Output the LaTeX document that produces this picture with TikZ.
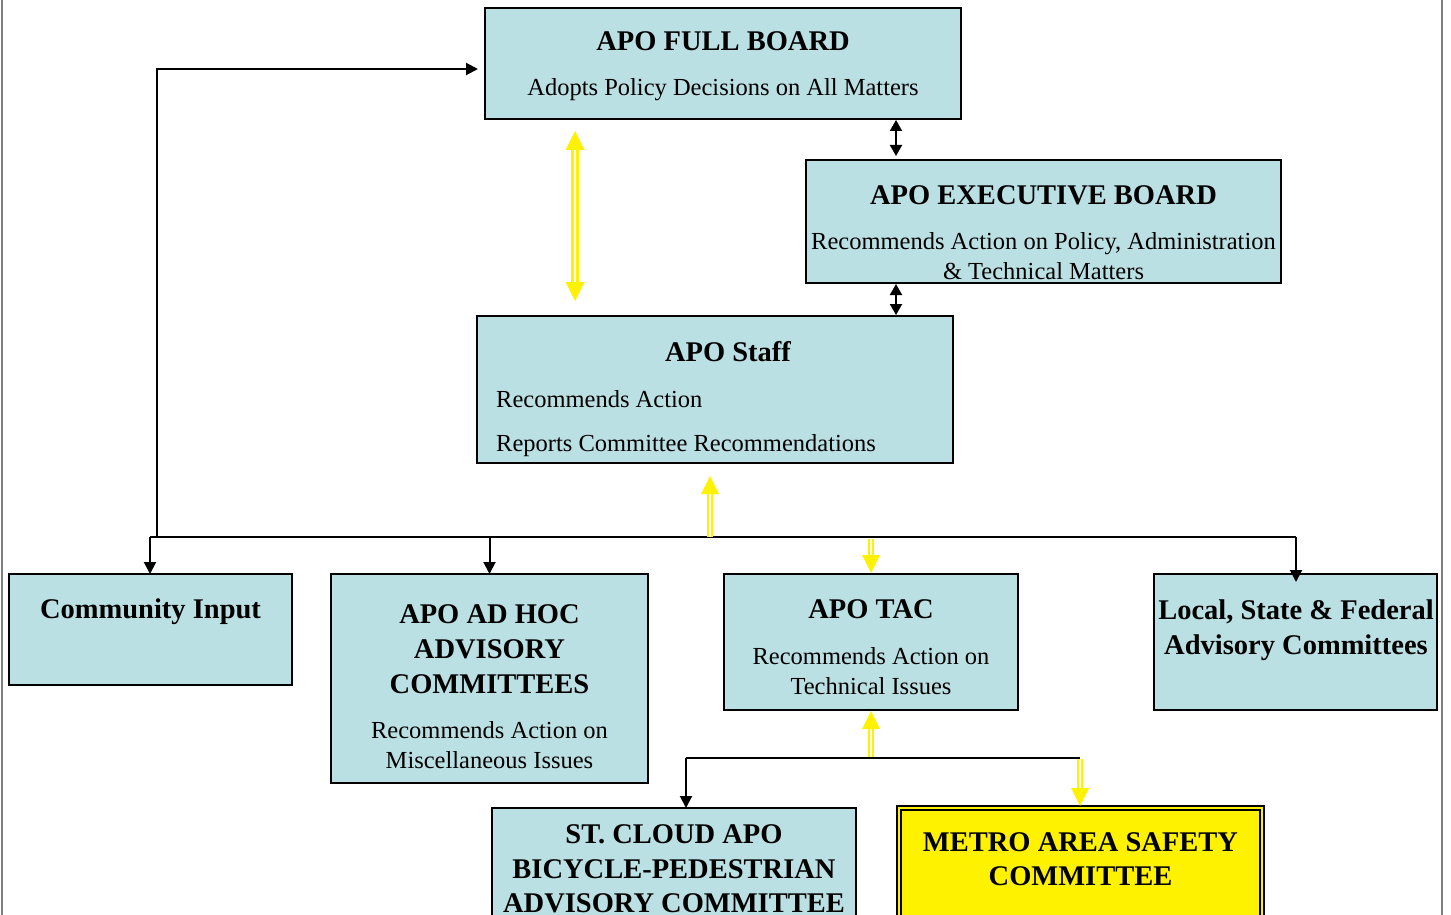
\documentclass[tikz,border=0pt]{standalone}
\usepackage{fontspec}
\setmainfont{Liberation Serif}
\usetikzlibrary{arrows.meta,calc}
\definecolor{boxblue}{RGB}{187,224,227}
\definecolor{edgegray}{RGB}{128,128,128}
\newcommand{\ttl}{\fontsize{28.5}{34}\selectfont\bfseries}
\newcommand{\bdy}{\fontsize{24.5}{30}\selectfont}
\begin{document}
\begin{tikzpicture}[x=1pt,y=-1pt,
  box/.style={draw=black, line width=2pt, fill=boxblue, anchor=north west, inner sep=0pt, outer sep=0pt},
  txt/.style={anchor=base, inner sep=0pt},
  blk/.style={draw=black, line width=2pt},
  btip/.style={-{Triangle[width=12pt,length=12pt]}},
  bboth/.style={{Triangle[width=12pt,length=11pt]}-{Triangle[width=12pt,length=11pt]}},
  yshaftB/.style={draw=yellow, line width=3pt, double=white, double distance=1.5pt},
  yshaft/.style={draw=yellow, line width=1.7pt, double=white, double distance=2.3pt},
  yhead/.style={fill=yellow}
]
\useasboundingbox (0,0) rectangle (1451,915);
\clip (0,0) rectangle (1451,915);
\fill[white] (0,0) rectangle (1451,915);
\draw[edgegray, line width=2pt] (2,0) -- (2,915);
\draw[edgegray, line width=2pt] (1442,0) -- (1442,915);

% boxes
\node[box, minimum width=476pt, minimum height=111pt] (fb) at (485,8) {};
\node[box, minimum width=475pt, minimum height=123pt] (ex) at (806,160) {};
\node[box, minimum width=476pt, minimum height=147pt] (st) at (477,316) {};
\node[box, minimum width=283pt, minimum height=111pt] (ci) at (9,574) {};
\node[box, minimum width=317pt, minimum height=209pt] (ah) at (331,574) {};
\node[box, minimum width=294pt, minimum height=136pt] (tac) at (724,574) {};
\node[box, minimum width=283pt, minimum height=136pt] (lsf) at (1154,574) {};
\node[box, minimum width=364pt, minimum height=140pt] (stc) at (492,808) {};
\node[draw=black, line width=1.6pt, double=yellow, double distance=2.4pt, fill=yellow,
      anchor=north west, inner sep=0pt, outer sep=0pt, minimum width=363.4pt, minimum height=140pt] (mas) at (898.8,807.8) {};

% texts
\node[txt] (fbT) at (723,51) {\ttl APO FULL BOARD};
\node[txt] (fbB) at (723,96) {\bdy Adopts Policy Decisions on All Matters};
\node[txt] (exT) at (1043.5,204) {\ttl APO EXECUTIVE BOARD};
\node[txt] (exB1) at (1043.5,249) {\bdy Recommends Action on Policy, Administration};
\node[txt] (exB2) at (1043.5,279) {\bdy \& Technical Matters};
\node[txt] (stT) at (728,361) {\ttl APO Staff};
\node[txt, anchor=base west] (stB1) at (496,407) {\bdy Recommends Action};
\node[txt, anchor=base west] (stB2) at (496,451) {\bdy Reports Committee Recommendations};
\node[txt] (ciT) at (150.5,618) {\ttl Community Input};
\node[txt] (ahT1) at (489.5,623) {\ttl APO AD HOC};
\node[txt] (ahT2) at (489.5,658) {\ttl ADVISORY};
\node[txt] (ahT3) at (489.5,693) {\ttl COMMITTEES};
\node[txt] (ahB1) at (489.5,738) {\bdy Recommends Action on};
\node[txt] (ahB2) at (489.5,768) {\bdy Miscellaneous Issues};
\node[txt] (tacT) at (871,618) {\ttl APO TAC};
\node[txt] (tacB1) at (871,664) {\bdy Recommends Action on};
\node[txt] (tacB2) at (871,694) {\bdy Technical Issues};
\node[txt] (lsfT1) at (1296,619) {\ttl Local, State \& Federal};
\node[txt] (lsfT2) at (1296,654) {\ttl Advisory Committees};
\node[txt] (stcT1) at (674,843) {\ttl ST. CLOUD APO};
\node[txt] (stcT2) at (674,878) {\ttl BICYCLE-PEDESTRIAN};
\node[txt] (stcT3) at (674,912) {\ttl ADVISORY COMMITTEE};
\node[txt] (masT1) at (1080.5,851) {\ttl METRO AREA SAFETY};
\node[txt] (masT2) at (1080.5,885) {\ttl COMMITTEE};

% black connectors
\coordinate (busL) at (150,537);
\coordinate (busR) at (1296,537);
\coordinate (fbUp) at (157,537);
\coordinate (fbIn) at (478,69);
\draw[blk] (busL) -- (busR);
\draw[blk, btip] (fbUp) |- (fbIn);
\draw[blk, btip] (busL) -- (busL |- ci.north);
\draw[blk, btip] (ah.north |- busL) -- (ah.north);
\coordinate (lsfIn) at (1296,582);
\draw[blk, btip] (busR) -- (lsfIn);
\coordinate (d1a) at (896,120);
\coordinate (d1b) at (896,156);
\draw[blk, bboth] (d1a) -- (d1b);
\coordinate (d2a) at (896,284);
\coordinate (d2b) at (896,315);
\draw[blk, bboth] (d2a) -- (d2b);
\coordinate (lowL) at (686,758);
\coordinate (lowR) at (1080,758);
\draw[blk] (lowL) -- (lowR);
\draw[blk, btip] (lowL) -- (lowL |- stc.north);

% yellow connectors
\coordinate (yA) at (575,131);
\coordinate (yB) at (575,301);
\draw[yshaftB] ($(yA)+(0,16)$) -- ($(yB)+(0,-16)$);
\fill[yhead] (yA) -- ++(-9.5,19) -- ++(19,0) -- cycle;
\fill[yhead] (yB) -- ++(-9.5,-19) -- ++(19,0) -- cycle;

\coordinate (ySt0) at (710,537);
\coordinate (ySt1) at (710,476);
\draw[yshaft] (ySt0) -- ($(ySt1)+(0,16)$);
\fill[yhead] (ySt1) -- ++(-9,18) -- ++(18,0) -- cycle;

\coordinate (yT0) at (871,539);
\coordinate (yT1) at (871,573);
\draw[yshaft] (yT0) -- ($(yT1)+(0,-16)$);
\fill[yhead] (yT1) -- ++(-9,-18) -- ++(18,0) -- cycle;

\coordinate (yU0) at (871,757);
\coordinate (yU1) at (871,711);
\draw[yshaft] (yU0) -- ($(yU1)+(0,16)$);
\fill[yhead] (yU1) -- ++(-9,18) -- ++(18,0) -- cycle;

\coordinate (yM0) at (1080,759);
\coordinate (yM1) at (1080,806);
\draw[yshaft] (yM0) -- ($(yM1)+(0,-16)$);
\fill[yhead] (yM1) -- ++(-9,-18) -- ++(18,0) -- cycle;
\end{tikzpicture}
\end{document}
